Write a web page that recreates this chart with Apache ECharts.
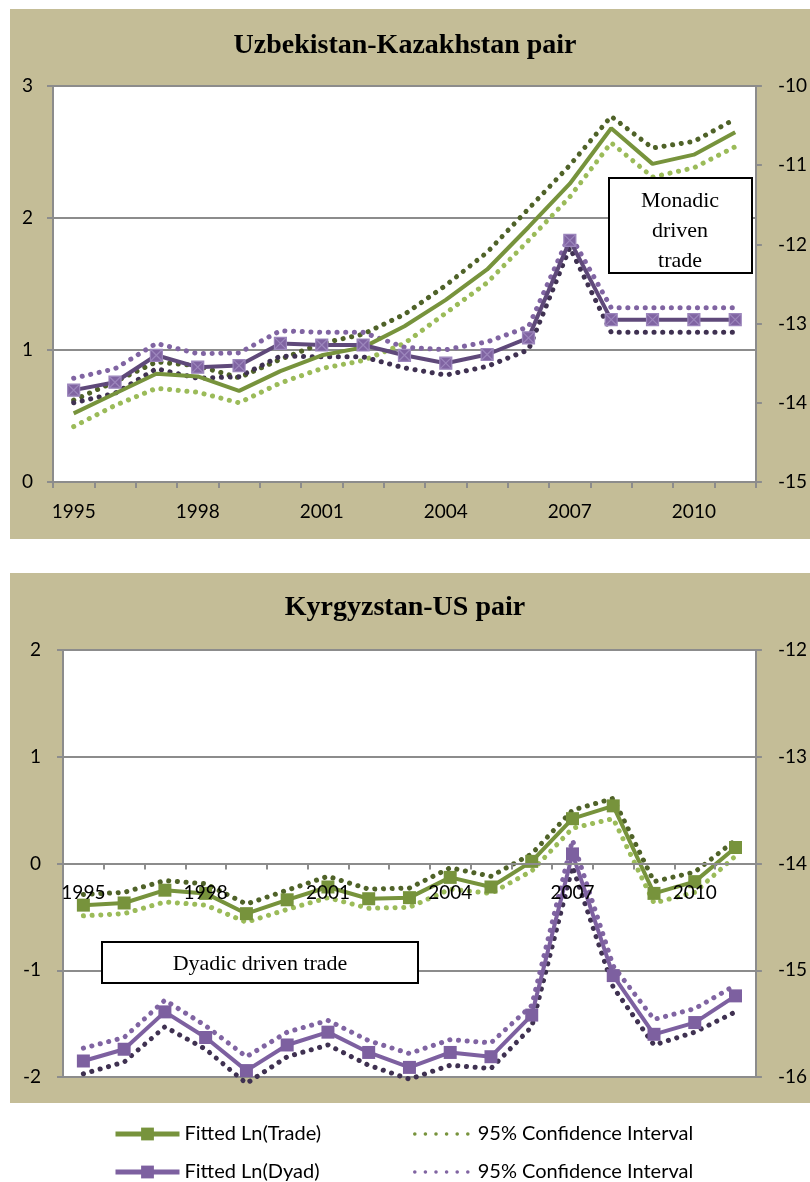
<!DOCTYPE html>
<html>
<head>
<meta charset="utf-8">
<script src="https://cdn.jsdelivr.net/npm/echarts@6/dist/echarts.min.js"></script>
<style>
html,body{margin:0;padding:0;background:#fff;}
#chart{width:810px;height:1182px;}
</style>
</head>
<body>
<div id="chart"></div>
<script>
// ---------- data ----------
const years = ['1995','1996','1997','1998','1999','2000','2001','2002','2003','2004','2005','2006','2007','2008','2009','2010','2011'];
const leftTicksTop = [0, 1, 2, 3];
const rightTicksTop = [-15, -14, -13, -12, -11, -10];
const leftTicksBottom = [-2, -1, 0, 1, 2];
const rightTicksBottom = [-16, -15, -14, -13, -12];

// Uzbekistan-Kazakhstan pair
const uzTrade      = [0.52, 0.67, 0.82, 0.80, 0.69, 0.84, 0.96, 1.02, 1.18, 1.38, 1.61, 1.93, 2.26, 2.68, 2.41, 2.48, 2.65];
const uzTradeUpper = [0.62, 0.76, 0.91, 0.88, 0.79, 0.93, 1.05, 1.12, 1.27, 1.49, 1.74, 2.07, 2.40, 2.77, 2.53, 2.58, 2.75];
const uzTradeLower = [0.42, 0.58, 0.71, 0.68, 0.60, 0.75, 0.86, 0.92, 1.05, 1.28, 1.51, 1.83, 2.16, 2.57, 2.31, 2.38, 2.54];
const uzDyad       = [-13.84, -13.74, -13.40, -13.55, -13.53, -13.25, -13.27, -13.27, -13.40, -13.50, -13.39, -13.18, -11.95, -12.95, -12.95, -12.95, -12.95];
const uzDyadUpper  = [-13.69, -13.57, -13.25, -13.38, -13.37, -13.09, -13.11, -13.11, -13.30, -13.33, -13.23, -13.04, -11.87, -12.80, -12.80, -12.80, -12.80];
const uzDyadLower  = [-14.00, -13.88, -13.57, -13.69, -13.67, -13.41, -13.42, -13.42, -13.56, -13.65, -13.54, -13.33, -12.04, -13.11, -13.11, -13.11, -13.11];

// Kyrgyzstan-US pair
const kgTrade      = [-0.39, -0.37, -0.25, -0.28, -0.47, -0.34, -0.22, -0.33, -0.32, -0.13, -0.22, 0.02, 0.42, 0.54, -0.28, -0.17, 0.15];
const kgTradeUpper = [-0.29, -0.27, -0.16, -0.19, -0.38, -0.25, -0.12, -0.24, -0.23, -0.04, -0.12, 0.09, 0.50, 0.61, -0.17, -0.08, 0.22];
const kgTradeLower = [-0.49, -0.47, -0.36, -0.39, -0.55, -0.43, -0.32, -0.42, -0.41, -0.24, -0.28, -0.07, 0.33, 0.42, -0.37, -0.27, 0.07];
const kgDyad       = [-15.85, -15.74, -15.39, -15.63, -15.94, -15.70, -15.58, -15.77, -15.91, -15.77, -15.81, -15.42, -13.91, -15.05, -15.60, -15.49, -15.24];
const kgDyadUpper  = [-15.73, -15.63, -15.28, -15.52, -15.81, -15.58, -15.47, -15.66, -15.78, -15.65, -15.68, -15.33, -13.78, -14.96, -15.46, -15.36, -15.14];
const kgDyadLower  = [-15.97, -15.86, -15.53, -15.74, -16.06, -15.81, -15.70, -15.89, -16.02, -15.89, -15.92, -15.53, -14.03, -15.16, -15.70, -15.58, -15.39];

const titleTop = 'Uzbekistan-Kazakhstan pair';
const titleBottom = 'Kyrgyzstan-US pair';
const noteTop = 'Monadic\ndriven\ntrade';
const noteBottom = 'Dyadic driven trade';
const nameTrade = 'Fitted Ln(Trade)';
const nameDyad = 'Fitted Ln(Dyad)';
const nameCI = '95% Confidence Interval';

// ---------- styles ----------
const TAN = '#C4BD97';
const GRAY = '#8C8C8C';
const GREEN = '#77933C', GREEN_DARK = '#4F6228', GREEN_LIGHT = '#9BBB59';
const PURPLE_TOP = '#5F497A', PURPLE = '#7D60A0', PURPLE_DARK = '#3F3151', PURPLE_MID = '#8064A2';
const AX_FONT = {fontFamily: 'Lato', fontSize: 19, color: '#000'};
const LEG_FONT = {fontFamily: 'Lato', fontSize: 20, color: '#000'};
const DOT = [0.1, 8.6];

function dotted(name, data, color, xi, yi) {
  return {type: 'line', name, data, xAxisIndex: xi, yAxisIndex: yi, symbol: 'none', clip: false,
    lineStyle: {color, width: 5, type: DOT, cap: 'round'}, itemStyle: {color}, z: 2};
}

const chart = echarts.init(document.getElementById('chart'), null, {renderer: 'canvas'});

const yAxisCommon = (pos, gi, min, max, showSplit, margin) => ({
  type: 'value', gridIndex: gi, position: pos, min, max, interval: 1,
  axisLine: {show: true, lineStyle: {color: GRAY, width: 2}},
  axisTick: {show: true, length: 6, lineStyle: {color: GRAY, width: 2}},
  axisLabel: Object.assign({margin}, AX_FONT),
  splitLine: {show: showSplit, lineStyle: {color: GRAY, width: 2}}
});

// bottom grid geometry (used to put the category axis on the zero line)
const bottomGridTop = 650, bottomGridHeight = 427;
const bottomZeroOffset = -bottomGridHeight * (leftTicksBottom[leftTicksBottom.length - 1] - 0) /
  (leftTicksBottom[leftTicksBottom.length - 1] - leftTicksBottom[0]);

const legendBase = {selectedMode: false, padding: 0, textStyle: LEG_FONT};

const option = {
  animation: false,
  graphic: [
    {type: 'group', z: -100, children: [
      {type: 'rect', shape: {x: 10, y: 9, width: 800, height: 530}, style: {fill: TAN}, z: -100},
      {type: 'rect', shape: {x: 10, y: 573, width: 800, height: 530}, style: {fill: TAN}, z: -100}
    ]},
    {type: 'group', z: 100, children: [
      {type: 'rect', shape: {x: 609, y: 178, width: 143, height: 95}, style: {fill: '#fff', stroke: '#000', lineWidth: 2}, z: 100},
      {type: 'text', x: 680, y: 231, style: {text: noteTop, fill: '#000', font: '22px "Liberation Serif"', align: 'center', verticalAlign: 'middle', lineHeight: 30}, z: 101},
      {type: 'rect', shape: {x: 102, y: 942, width: 316, height: 41}, style: {fill: '#fff', stroke: '#000', lineWidth: 2}, z: 100},
      {type: 'text', x: 260, y: 964, style: {text: noteBottom, fill: '#000', font: '22px "Liberation Serif"', align: 'center', verticalAlign: 'middle'}, z: 101}
    ]}
  ],
  title: [
    {text: titleTop, left: 'center', top: 27, textStyle: {fontFamily: 'Liberation Serif', fontWeight: 'bold', fontSize: 28, color: '#000'}},
    {text: titleBottom, left: 'center', top: 589, textStyle: {fontFamily: 'Liberation Serif', fontWeight: 'bold', fontSize: 28, color: '#000'}}
  ],
  legend: [
    Object.assign({data: [nameTrade], left: 113, top: 1124, itemWidth: 64, itemHeight: 16,
      lineStyle: {width: 5}}, legendBase),
    Object.assign({data: [nameCI], left: 413, top: 1124, itemWidth: 58, itemHeight: 16,
      itemStyle: {opacity: 0}, lineStyle: {width: 3.5, color: GREEN, type: [0.1, 10.5], cap: 'round'}}, legendBase),
    Object.assign({data: [nameDyad], left: 113, top: 1162, itemWidth: 64, itemHeight: 16,
      lineStyle: {width: 5}}, legendBase),
    Object.assign({data: [nameCI + ' (Dyad)'], left: 413, top: 1162, itemWidth: 58, itemHeight: 16,
      itemStyle: {opacity: 0}, lineStyle: {width: 3.5, color: PURPLE_MID, type: [0.1, 10.5], cap: 'round'},
      formatter: () => nameCI}, legendBase)
  ],
  grid: [
    {left: 53, right: 54, top: 86, height: 396, show: true, backgroundColor: '#fff', borderWidth: 0},
    {left: 63, right: 53, top: bottomGridTop, height: bottomGridHeight, show: true, backgroundColor: '#fff', borderWidth: 0}
  ],
  xAxis: [
    {type: 'category', gridIndex: 0, data: years, boundaryGap: true,
      axisLine: {show: true, lineStyle: {color: GRAY, width: 2}},
      axisTick: {show: true, interval: 0, length: 6, lineStyle: {color: GRAY, width: 2}},
      axisLabel: Object.assign({interval: 2, margin: 20}, AX_FONT), splitLine: {show: false}},
    {type: 'category', gridIndex: 1, data: years, boundaryGap: true, z: 10,
      position: 'top', offset: bottomZeroOffset,
      axisLine: {show: true, onZero: false, lineStyle: {color: GRAY, width: 2}},
      axisTick: {show: true, inside: true, interval: 0, length: 6, lineStyle: {color: GRAY, width: 2}},
      axisLabel: Object.assign({interval: 2, inside: true, margin: 20}, AX_FONT), splitLine: {show: false}}
  ],
  yAxis: [
    yAxisCommon('left', 0, leftTicksTop[0], leftTicksTop[leftTicksTop.length - 1], true, 20),
    yAxisCommon('right', 0, rightTicksTop[0], rightTicksTop[rightTicksTop.length - 1], false, 22),
    yAxisCommon('left', 1, leftTicksBottom[0], leftTicksBottom[leftTicksBottom.length - 1], true, 22),
    yAxisCommon('right', 1, rightTicksBottom[0], rightTicksBottom[rightTicksBottom.length - 1], false, 22)
  ],
  series: [
    // bottom chart (first so the legend takes its icons)
    dotted(nameCI, kgTradeUpper, GREEN_DARK, 1, 2),
    dotted(nameCI, kgTradeLower, GREEN_LIGHT, 1, 2),
    {type: 'line', name: nameTrade, data: kgTrade, xAxisIndex: 1, yAxisIndex: 2, symbol: 'rect', symbolSize: 13,
      lineStyle: {color: GREEN, width: 4}, itemStyle: {color: GREEN}, z: 3},
    dotted(nameCI + ' (Dyad)', kgDyadUpper, PURPLE_MID, 1, 3),
    dotted(nameCI + ' (Dyad)', kgDyadLower, PURPLE_DARK, 1, 3),
    {type: 'line', name: nameDyad, data: kgDyad, xAxisIndex: 1, yAxisIndex: 3, symbol: 'rect', symbolSize: 13,
      lineStyle: {color: PURPLE, width: 4}, itemStyle: {color: PURPLE}, z: 4},
    // top chart
    dotted(nameCI, uzTradeUpper, GREEN_DARK, 0, 0),
    dotted(nameCI, uzTradeLower, GREEN_LIGHT, 0, 0),
    {type: 'line', name: nameTrade, data: uzTrade, xAxisIndex: 0, yAxisIndex: 0, symbol: 'none',
      lineStyle: {color: GREEN, width: 4}, itemStyle: {color: GREEN}, z: 3},
    dotted(nameCI + ' (Dyad)', uzDyadUpper, PURPLE_MID, 0, 1),
    dotted(nameCI + ' (Dyad)', uzDyadLower, PURPLE_DARK, 0, 1),
    {type: 'line', name: nameDyad, data: uzDyad, xAxisIndex: 0, yAxisIndex: 1,
      symbol: 'path://M0,0L10,0L10,10L0,10Z M0,0L10,10 M10,0L0,10', symbolSize: 12,
      lineStyle: {color: PURPLE_TOP, width: 4},
      itemStyle: {color: PURPLE_MID, borderColor: '#9C86BC', borderWidth: 1.2}, z: 4}
  ]
};
chart.setOption(option);
</script>
</body>
</html>
